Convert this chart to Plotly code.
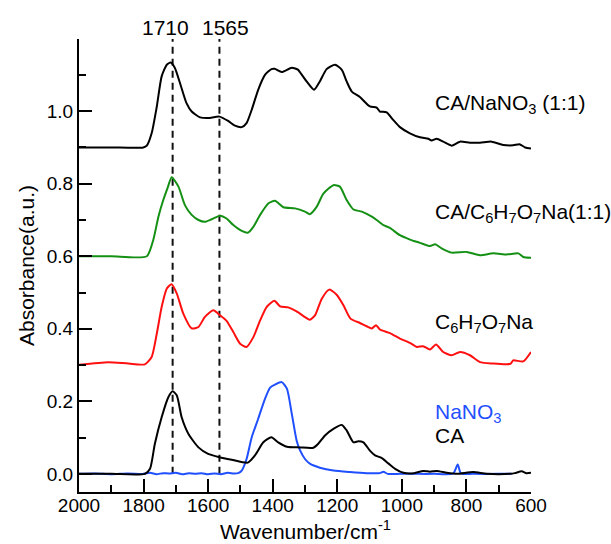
import plotly.graph_objects as go

# ---------------- data (wavenumber cm^-1, absorbance a.u.) ----------------
w_mix_nano3 = [2000, 1900, 1801, 1790, 1775, 1759, 1744, 1728, 1716, 1703, 1687, 1667, 1651, 1625,
               1600, 1565, 1538, 1517, 1496, 1481, 1465, 1445, 1424, 1404, 1394, 1372, 1341, 1321,
               1316, 1295, 1272, 1254, 1233, 1207, 1186, 1171, 1155, 1130, 1099, 1078, 1068, 1047,
               1027, 1006, 975, 944, 918, 908, 892, 872, 846, 820, 789, 758, 722, 686, 655, 636, 618, 600]
a_mix_nano3 = [0.900, 0.900, 0.900, 0.905, 0.939, 1.013, 1.096, 1.128, 1.134, 1.119, 1.077, 1.022, 0.999, 0.983,
               0.981, 0.985, 0.973, 0.960, 0.956, 0.967, 1.004, 1.059, 1.100, 1.116, 1.117, 1.108, 1.120, 1.114,
               1.108, 1.082, 1.059, 1.082, 1.116, 1.128, 1.114, 1.082, 1.054, 1.039, 1.013, 1.010, 0.999, 0.997,
               0.976, 0.956, 0.939, 0.928, 0.924, 0.919, 0.924, 0.916, 0.905, 0.916, 0.913, 0.913, 0.916, 0.907,
               0.906, 0.909, 0.900, 0.897]

w_mix_citrate = [2000, 1900, 1790, 1770, 1754, 1739, 1725, 1713, 1692, 1672, 1651, 1630, 1610, 1589, 1563,
                 1543, 1522, 1496, 1477, 1460, 1439, 1413, 1393, 1367, 1331, 1300, 1285, 1264, 1243, 1212,
                 1192, 1171, 1150, 1124, 1093, 1078, 1057, 1037, 1006, 975, 944, 913, 897, 877, 846, 799,
                 758, 717, 675, 639, 624, 600]
a_mix_citrate = [0.600, 0.600, 0.600, 0.645, 0.709, 0.755, 0.790, 0.818, 0.792, 0.741, 0.714, 0.700, 0.695,
                 0.702, 0.712, 0.704, 0.686, 0.670, 0.665, 0.681, 0.714, 0.746, 0.753, 0.735, 0.732, 0.723,
                 0.716, 0.736, 0.773, 0.796, 0.792, 0.755, 0.729, 0.723, 0.709, 0.700, 0.686, 0.678, 0.658,
                 0.646, 0.637, 0.628, 0.633, 0.622, 0.610, 0.612, 0.603, 0.608, 0.605, 0.608, 0.598, 0.596]

w_citrate = [2000, 1909, 1847, 1796, 1775, 1759, 1744, 1728, 1713, 1697, 1677, 1651, 1630, 1610, 1584,
             1563, 1543, 1522, 1501, 1481, 1460, 1439, 1419, 1395, 1377, 1352, 1326, 1300, 1285, 1269,
             1248, 1225, 1202, 1181, 1159, 1130, 1109, 1093, 1080, 1068, 1037, 1006, 975, 954, 934, 913,
             894, 872, 846, 820, 789, 758, 717, 675, 663, 655, 624, 600]
a_citrate = [0.301, 0.308, 0.304, 0.302, 0.322, 0.387, 0.460, 0.511, 0.523, 0.497, 0.442, 0.401, 0.405,
             0.433, 0.451, 0.437, 0.422, 0.391, 0.359, 0.350, 0.377, 0.423, 0.460, 0.477, 0.462, 0.459,
             0.448, 0.432, 0.425, 0.437, 0.483, 0.508, 0.494, 0.465, 0.428, 0.416, 0.407, 0.401, 0.410,
             0.398, 0.388, 0.373, 0.361, 0.350, 0.352, 0.343, 0.357, 0.336, 0.327, 0.336, 0.327, 0.308,
             0.304, 0.302, 0.304, 0.313, 0.310, 0.336]

w_ca = [2000, 1900, 1796, 1780, 1765, 1744, 1723, 1710, 1697, 1682, 1661, 1630, 1600, 1565, 1527, 1477,
        1455, 1429, 1404, 1383, 1356, 1316, 1274, 1259, 1238, 1212, 1186, 1171, 1150, 1135, 1119, 1099,
        1083, 1063, 1042, 1021, 995, 962, 934, 913, 892, 861, 830, 779, 737, 665, 650, 629, 614, 600]
a_ca = [0.000, 0.000, 0.000, 0.014, 0.083, 0.156, 0.212, 0.228, 0.216, 0.156, 0.110, 0.073, 0.055, 0.046,
        0.039, 0.031, 0.051, 0.087, 0.101, 0.087, 0.075, 0.073, 0.072, 0.083, 0.106, 0.124, 0.135, 0.120,
        0.087, 0.090, 0.087, 0.064, 0.051, 0.044, 0.029, 0.014, 0.003, 0.002, 0.008, 0.006, 0.008, 0.003,
        0.000, 0.005, 0.000, 0.000, 0.002, 0.007, 0.002, 0.003]

w_nano3 = [2000, 1950, 1900, 1850, 1800, 1780, 1760, 1740, 1720, 1700, 1680, 1660, 1640, 1620, 1600,
           1580, 1560, 1540, 1520, 1507, 1496, 1481, 1465, 1445, 1424, 1408, 1393, 1372, 1356, 1341,
           1326, 1316, 1300, 1285, 1254, 1212, 1161, 1109, 1068, 1057, 1044, 1006, 950, 900, 841, 827,
           817, 780, 700, 660]
a_nano3 = [0.000, 0.001, -0.001, 0.001, 0.000, 0.003, -0.001, 0.002, 0.001, 0.003, -0.001, 0.002, 0.000,
           0.002, -0.001, 0.001, -0.001, 0.003, 0.001, 0.002, 0.009, 0.041, 0.101, 0.152, 0.207, 0.238,
           0.246, 0.253, 0.235, 0.166, 0.092, 0.066, 0.041, 0.028, 0.017, 0.009, 0.005, 0.002, 0.002,
           0.006, 0.000, 0.000, 0.000, 0.000, 0.001, 0.026, 0.001, 0.000, 0.000, 0.000]

marker_lines = [1710, 1565]
marker_labels = ["1710", "1565"]

FONT = "Liberation Sans, Arial, Helvetica, sans-serif"
BLACK = "#000000"
GREEN = "#149014"
RED = "#ff1010"
BLUE = "#1f4fff"

series = [
    (w_nano3, a_nano3, BLUE),
    (w_ca, a_ca, BLACK),
    (w_citrate, a_citrate, RED),
    (w_mix_citrate, a_mix_citrate, GREEN),
    (w_mix_nano3, a_mix_nano3, BLACK),
]

fig = go.Figure()
for xs, ys, col in series:
    fig.add_trace(go.Scatter(x=xs, y=ys, mode="lines",
                             line=dict(color=col, width=2, shape="spline", smoothing=0.6),
                             showlegend=False, hoverinfo="skip"))

for xv, lab, shift in zip(marker_lines, marker_labels, [-7, 6]):
    fig.add_shape(type="line", x0=xv, x1=xv, y0=0, y1=1.2, xref="x", yref="y",
                  line=dict(color="#111111", width=2, dash="7px,5px"), layer="below")
    fig.add_annotation(x=xv, y=1.0, xref="x", yref="paper", text=lab, showarrow=False,
                       xshift=shift, yshift=-2, yanchor="bottom",
                       font=dict(family=FONT, size=21, color=BLACK))

labels = [
    ("CA/NaNO<sub>3</sub> (1:1)", 1.02, BLACK),
    ("CA/C<sub>6</sub>H<sub>7</sub>O<sub>7</sub>Na(1:1)", 0.72, BLACK),
    ("C<sub>6</sub>H<sub>7</sub>O<sub>7</sub>Na", 0.417, BLACK),
    ("NaNO<sub>3</sub>", 0.169, BLUE),
    ("CA", 0.106, BLACK),
]
for txt, yv, col in labels:
    fig.add_annotation(x=904, y=yv, xref="x", yref="y", text=txt, showarrow=False,
                       xanchor="left", yanchor="middle",
                       font=dict(family=FONT, size=21, color=col))

# x-axis title placed as an annotation below the tick labels, kept inside the canvas
fig.add_annotation(x=0.5, y=-0.1155, xref="paper", yref="paper",
                   text="Wavenumber/cm<sup>-1</sup>", showarrow=False,
                   xanchor="center", yanchor="bottom", borderpad=0,
                   font=dict(family=FONT, size=21, color=BLACK))

axis_common = dict(showline=True, linecolor=BLACK, linewidth=2, ticks="inside", ticklen=13,
                   tickwidth=2, tickcolor=BLACK, showgrid=False, zeroline=False, automargin=False,
                   showticklabels=True,
                   tickfont=dict(family=FONT, size=19, color=BLACK), mirror=False)

fig.update_layout(
    template="none",
    width=611, height=544,
    margin=dict(l=79, r=80, t=39, b=52, pad=0),
    paper_bgcolor="white", plot_bgcolor="white",
    font=dict(family=FONT, color=BLACK),
    xaxis=dict(range=[2000, 600], tickmode="linear", tick0=600, dtick=200, ticklabelstandoff=-5,
               minor=dict(dtick=100, tick0=600, ticks="inside", ticklen=7,
                          tickwidth=2, tickcolor=BLACK, showgrid=False),
               **axis_common),
    yaxis=dict(range=[-0.05, 1.199], tickmode="linear", tick0=0, dtick=0.2, tickformat=".1f",
               minor=dict(dtick=0.1, tick0=0, ticks="inside", ticklen=7,
                          tickwidth=2, tickcolor=BLACK, showgrid=False),
               title=dict(text="Absorbance(a.u.)", font=dict(family=FONT, size=21), standoff=6),
               **axis_common),
)

fig.write_html("out.html")
